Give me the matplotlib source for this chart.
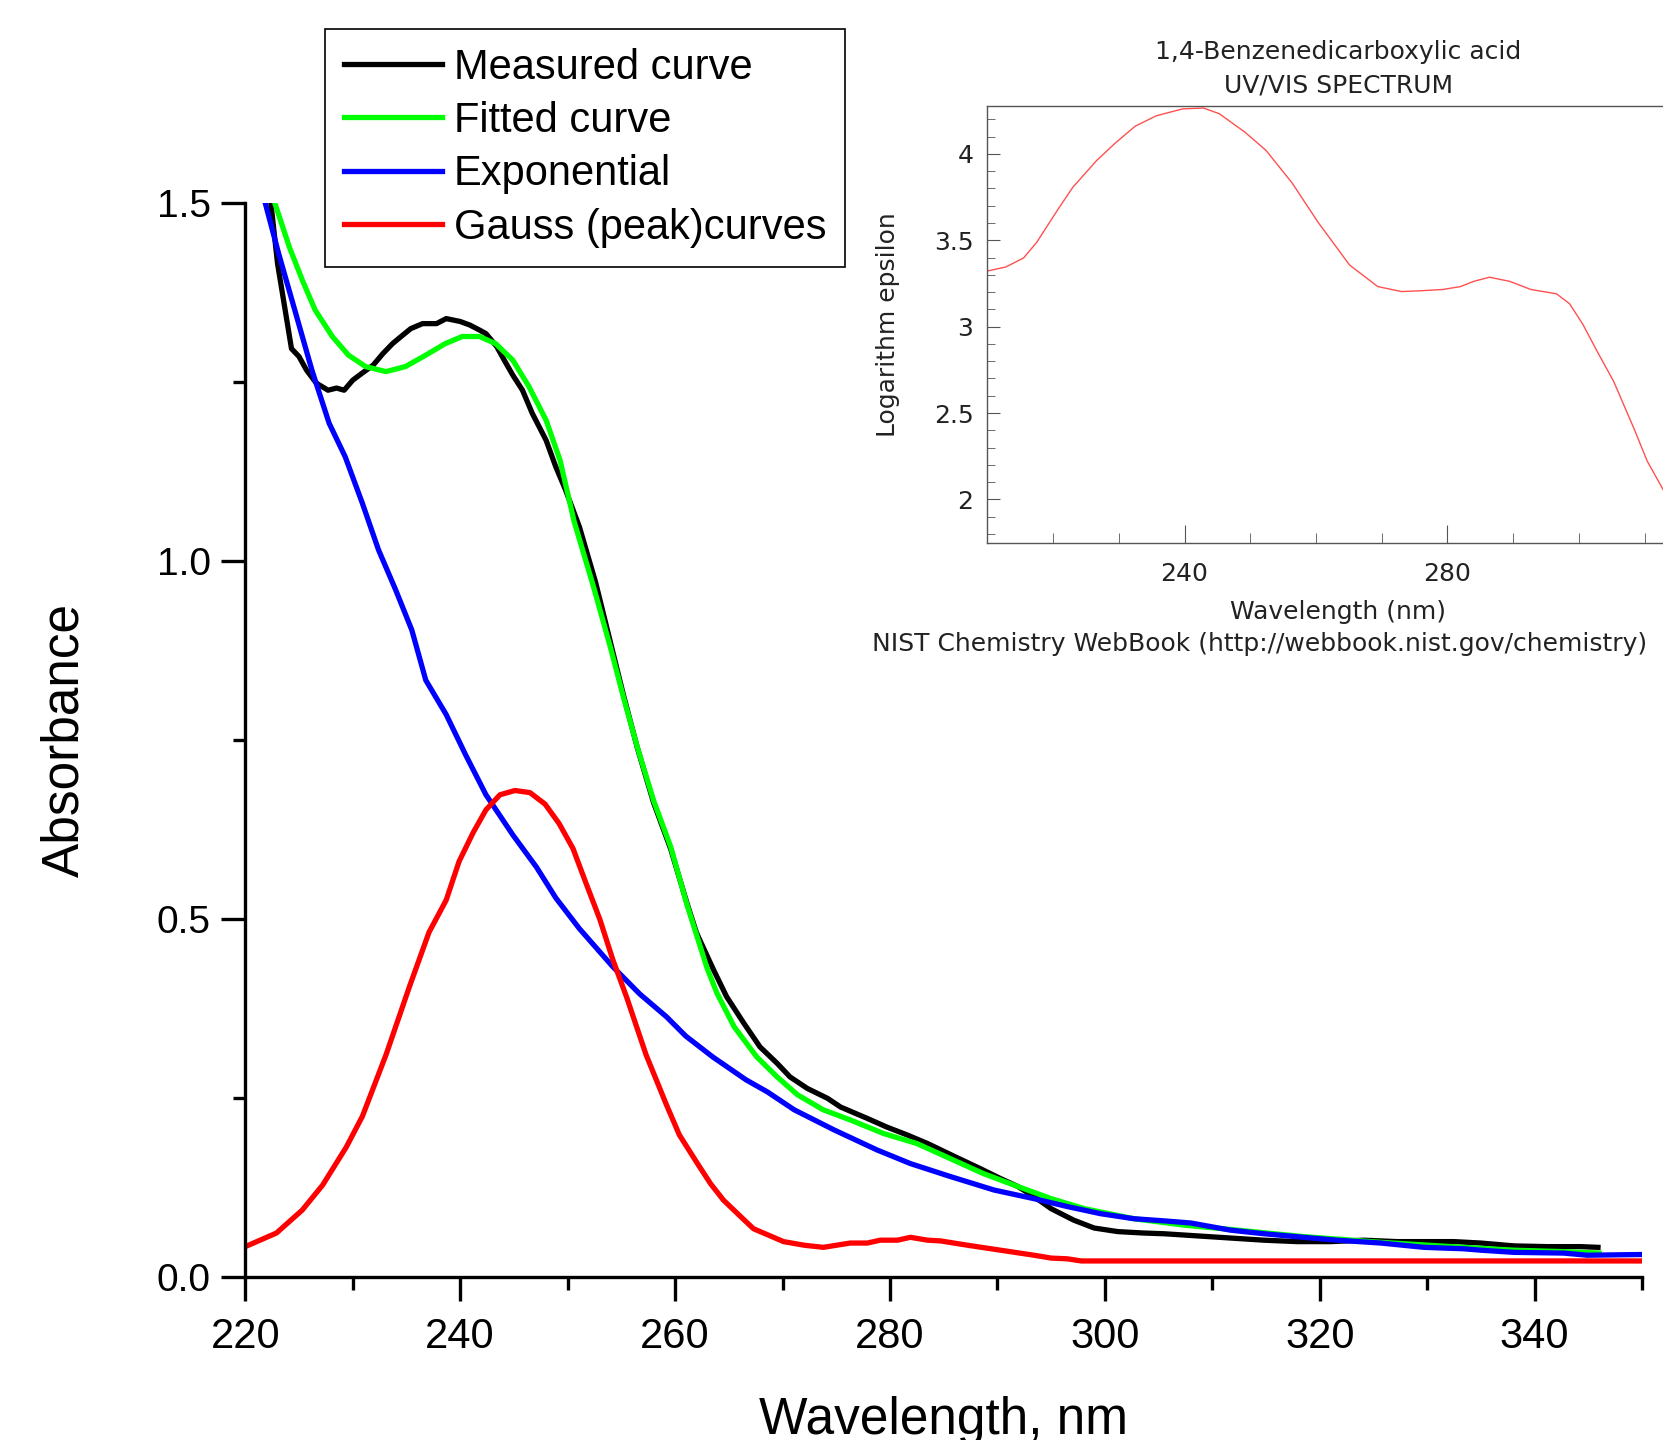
import matplotlib
matplotlib.use('Agg')
import matplotlib.pyplot as plt
from matplotlib.ticker import MultipleLocator, FuncFormatter

plt.rcParams['font.family'] = ['Liberation Sans', 'DejaVu Sans']

# === Main chart data ===
measured_nm = [222.4, 223.0, 224.3, 225.0, 225.7, 226.6, 227.7, 228.5, 229.2, 230.0,
               230.8, 231.9, 232.8, 233.7, 234.5, 235.4, 236.5, 237.8, 238.7, 240.0,
               240.9, 241.8, 242.4, 243.4, 244.1, 244.9, 245.8, 246.7, 248.0, 248.9,
               249.8, 251.1, 252.6, 254.0, 255.2, 256.5, 258.0, 259.6, 261.1, 262.0,
               263.6, 264.8, 266.4, 267.9, 269.5, 270.7, 272.3, 274.2, 275.4, 277.9,
               279.7, 281.6, 283.5, 286.0, 288.4, 290.3, 291.9, 293.4, 295.0, 297.1,
               299.0, 301.2, 303.6, 305.5, 308.6, 311.7, 314.8, 317.9, 321.0, 324.1,
               327.2, 330.3, 332.5, 335.0, 338.1, 341.2, 344.3, 345.9]
measured_abs = [1.497, 1.415, 1.296, 1.285, 1.266, 1.248, 1.238, 1.241, 1.238, 1.252,
                1.261, 1.273, 1.289, 1.303, 1.313, 1.324, 1.331, 1.331, 1.338, 1.334,
                1.329, 1.322, 1.317, 1.299, 1.280, 1.259, 1.238, 1.206, 1.168, 1.131,
                1.099, 1.047, 0.970, 0.885, 0.812, 0.738, 0.662, 0.597, 0.522, 0.480,
                0.428, 0.391, 0.354, 0.321, 0.298, 0.279, 0.263, 0.249, 0.237, 0.221,
                0.209, 0.198, 0.186, 0.168, 0.151, 0.137, 0.126, 0.112, 0.095, 0.079,
                0.068, 0.063, 0.061, 0.060, 0.057, 0.054, 0.051, 0.049, 0.049, 0.051,
                0.049, 0.049, 0.049, 0.047, 0.043, 0.042, 0.042, 0.041]

fitted_nm = [222.8, 224.1, 225.3, 226.5, 228.1, 229.6, 231.2, 233.1, 234.9, 236.8,
             238.6, 240.2, 241.8, 243.3, 244.9, 246.4, 248.0, 249.3, 250.6, 252.4,
             254.0, 255.2, 256.5, 258.0, 259.6, 261.1, 263.0, 263.9, 265.5, 267.6,
             269.5, 271.4, 273.8, 276.3, 279.4, 282.5, 285.6, 288.7, 291.9, 295.0,
             298.1, 302.7, 307.4, 311.7, 318.5, 325.7, 333.4, 338.1, 342.7, 346.0]
fitted_abs = [1.497, 1.438, 1.392, 1.350, 1.313, 1.287, 1.271, 1.264, 1.271, 1.287,
              1.303, 1.313, 1.313, 1.303, 1.280, 1.243, 1.196, 1.140, 1.055, 0.964,
              0.878, 0.809, 0.739, 0.665, 0.600, 0.520, 0.430, 0.396, 0.349, 0.307,
              0.279, 0.254, 0.233, 0.219, 0.200, 0.186, 0.165, 0.144, 0.126, 0.109,
              0.095, 0.081, 0.072, 0.066, 0.056, 0.048, 0.041, 0.037, 0.035, 0.033]

expo_nm = [221.9, 223.1, 224.7, 226.2, 227.8, 229.3, 230.9, 232.4, 234.0, 235.5,
           236.8, 238.7, 240.5, 242.4, 244.9, 247.1, 248.9, 251.1, 254.2, 256.7,
           259.2, 261.0, 263.5, 266.6, 268.6, 271.1, 274.8, 278.8, 281.9, 285.6,
           289.7, 293.4, 296.5, 299.6, 302.7, 305.5, 308.0, 311.7, 314.8, 318.5,
           321.6, 325.7, 329.7, 333.4, 335.0, 338.1, 342.7, 344.9, 350.0]
expo_abs = [1.497, 1.429, 1.345, 1.266, 1.192, 1.145, 1.080, 1.015, 0.959, 0.903,
            0.833, 0.785, 0.729, 0.673, 0.617, 0.572, 0.529, 0.486, 0.433, 0.395,
            0.363, 0.336, 0.307, 0.275, 0.258, 0.233, 0.205, 0.177, 0.158, 0.140,
            0.121, 0.109, 0.098, 0.088, 0.081, 0.078, 0.075, 0.065, 0.060, 0.055,
            0.051, 0.047, 0.041, 0.039, 0.037, 0.034, 0.033, 0.030, 0.031]

gauss_nm = [220.0, 222.9, 225.3, 227.2, 229.4, 230.9, 233.1, 235.3, 237.1, 238.7,
            239.9, 241.2, 242.4, 243.7, 245.1, 246.5, 247.9, 249.2, 250.5, 251.7,
            253.0, 254.2, 255.5, 257.3, 259.2, 260.4, 262.0, 263.3, 264.5, 266.1,
            267.3, 270.1, 272.0, 273.8, 276.3, 277.9, 279.1, 280.7, 281.9, 283.5,
            284.7, 287.2, 290.3, 293.4, 295.0, 296.5, 297.8, 350.0]
gauss_abs = [0.042, 0.061, 0.093, 0.128, 0.181, 0.224, 0.310, 0.406, 0.481, 0.526,
             0.580, 0.620, 0.652, 0.673, 0.679, 0.676, 0.660, 0.633, 0.598, 0.550,
             0.499, 0.443, 0.390, 0.310, 0.240, 0.198, 0.160, 0.130, 0.107, 0.084,
             0.067, 0.049, 0.044, 0.041, 0.047, 0.047, 0.051, 0.051, 0.055, 0.051,
             0.050, 0.044, 0.037, 0.030, 0.026, 0.025, 0.022, 0.022]

# === NIST inset data ===
nist_nm = [210.0, 212.8, 215.5, 217.5, 220.7, 223.0, 226.6, 229.4, 232.5, 235.7,
           239.7, 242.9, 245.3, 249.2, 252.4, 256.4, 260.3, 263.5, 265.1, 269.4,
           273.0, 276.1, 279.3, 282.0, 284.0, 286.4, 289.5, 292.7, 296.6, 298.6,
           300.6, 302.9, 305.3, 308.5, 310.4, 313.0, 314.5]
nist_logeps = [3.322, 3.345, 3.397, 3.487, 3.676, 3.806, 3.960, 4.060, 4.160, 4.220,
               4.260, 4.265, 4.232, 4.125, 4.020, 3.830, 3.605, 3.440, 3.357, 3.232,
               3.203, 3.208, 3.215, 3.232, 3.262, 3.286, 3.262, 3.215, 3.190, 3.132,
               3.014, 2.849, 2.683, 2.400, 2.222, 2.045, 1.950]

labels = ['Measured curve', 'Fitted curve', 'Exponential', 'Gauss (peak)curves']
colors = ['#000000', '#00ff00', '#0000ff', '#ff0000']

fig = plt.figure(figsize=(16.63, 14.4), dpi=100)

# === Main axes ===
ax = fig.add_axes([0.1475, 0.1134, 0.8399, 0.7459])
series = [(measured_nm, measured_abs), (fitted_nm, fitted_abs),
          (expo_nm, expo_abs), (gauss_nm, gauss_abs)]
for (xs, ys), lab, col in zip(series, labels, colors):
    ax.plot(xs, ys, color=col, lw=3.8, label=lab, solid_joinstyle='round')

ax.set_xlim(220, 350)
ax.set_ylim(0, 1.5)
ax.spines['top'].set_visible(False)
ax.spines['right'].set_visible(False)
for s in ['left', 'bottom']:
    ax.spines[s].set_linewidth(2.4)
ax.xaxis.set_major_locator(MultipleLocator(20))
ax.xaxis.set_minor_locator(MultipleLocator(10))
ax.yaxis.set_major_locator(MultipleLocator(0.5))
ax.yaxis.set_minor_locator(MultipleLocator(0.25))
ax.yaxis.set_major_formatter(FuncFormatter(lambda v, p: f'{v:.1f}'))
ax.tick_params(axis='x', which='major', length=17, width=2.4, labelsize=30, pad=12)
ax.tick_params(axis='x', which='minor', length=9, width=2.4)
ax.tick_params(axis='y', which='major', length=17, width=2.4, labelsize=28, pad=8)
ax.tick_params(axis='y', which='minor', length=9, width=2.4)
ax.set_xlabel('Wavelength, nm', fontsize=37, labelpad=28)
ax.set_ylabel('Absorbance', fontsize=37, labelpad=48)

leg = ax.legend(loc='upper left', bbox_to_anchor=(325 / 1663, 1 - 29 / 1440),
                bbox_transform=fig.transFigure, fontsize=30, frameon=True,
                fancybox=False, framealpha=1, edgecolor='black', borderaxespad=0,
                handlelength=2.36, handletextpad=0.28, borderpad=0.45,
                labelspacing=0.32)
leg.get_frame().set_linewidth(1.2)

# === NIST inset ===
ins = fig.add_axes([0.5937, 0.6229, 0.4221, 0.3034])
ins.plot(nist_nm, nist_logeps, color='#ff5050', lw=1.0)
ins.set_xlim(210, 316.8)
ins.set_ylim(1.748, 4.276)
for s in ins.spines.values():
    s.set_color('#555555')
    s.set_linewidth(1.0)
ins.xaxis.set_major_locator(MultipleLocator(40))
ins.xaxis.set_minor_locator(MultipleLocator(10))
ins.yaxis.set_major_locator(MultipleLocator(0.5))
ins.yaxis.set_minor_locator(MultipleLocator(0.1))
ins.yaxis.set_major_formatter(FuncFormatter(lambda v, p: f'{v:g}'))
ins.tick_params(which='both', direction='in', colors='#555555', labelcolor='#222222',
                labelfontfamily='DejaVu Sans', labelsize=18)
ins.tick_params(axis='x', which='major', length=13, pad=14)
ins.tick_params(axis='x', which='minor', length=7)
ins.tick_params(axis='y', which='major', length=9, pad=10)
ins.tick_params(axis='y', which='minor', length=6)
ins.set_xlabel('Wavelength (nm)', fontsize=18, family='DejaVu Sans', color='#222222',
               labelpad=10)
ins.set_ylabel('Logarithm epsilon', fontsize=18, family='DejaVu Sans', color='#222222',
               labelpad=24)
ins.set_title('1,4-Benzenedicarboxylic acid\nUV/VIS SPECTRUM', fontsize=18,
              family='DejaVu Sans', color='#222222', linespacing=1.5, pad=10)
fig.text(1260 / 1663, 1 - 644 / 1440,
         'NIST Chemistry WebBook (http://webbook.nist.gov/chemistry)',
         fontsize=18, family='DejaVu Sans', color='#222222', ha='center', va='center')

fig.savefig('out.png', dpi=100)
